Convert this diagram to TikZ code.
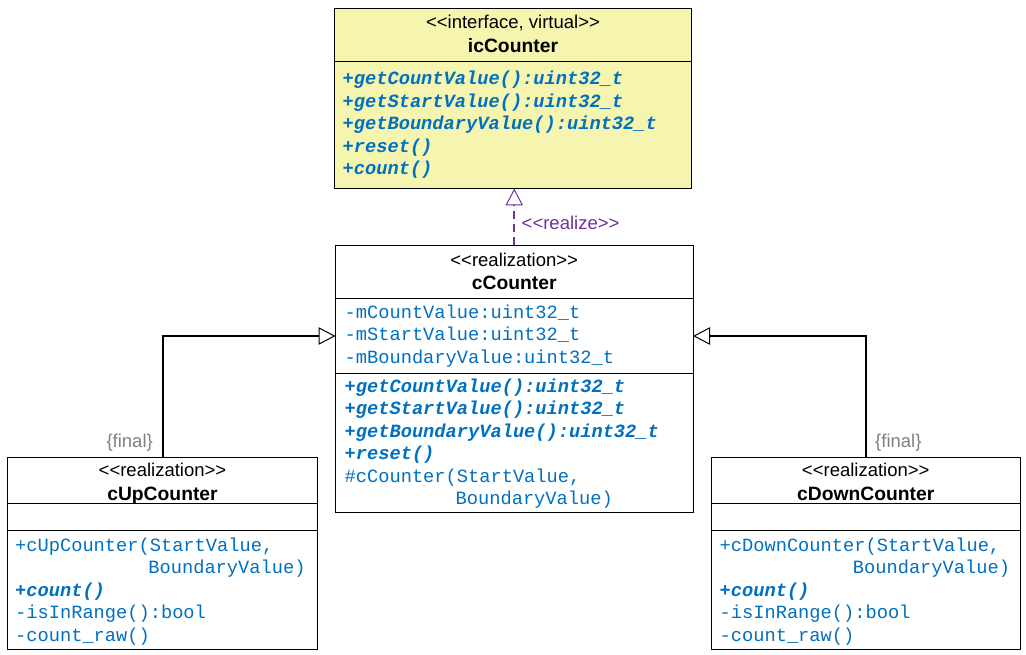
\documentclass[tikz,border=0pt]{standalone}
\usepackage{fontspec}
\setmainfont{Liberation Sans}
\setmonofont{Liberation Mono}
\usetikzlibrary{arrows.meta}
\definecolor{umlblue}{RGB}{0,112,192}
\definecolor{umlpurple}{RGB}{112,48,160}
\definecolor{umlyellow}{RGB}{245,245,176}
\definecolor{umlgray}{RGB}{128,128,128}
\newcommand{\lguil}{<\kern0pt<}
\newcommand{\rguil}{>\kern0pt>}
\tikzset{
  classbox/.style={draw=black, line width=1pt, inner sep=0pt, outer sep=0pt, anchor=north west},
  sepline/.style={draw=black, line width=1pt},
  stereo/.style={anchor=base, inner sep=0pt, font=\fontsize{18.5}{22.5}\selectfont},
  cname/.style={anchor=base, inner sep=0pt, font=\fontsize{19.3}{22.5}\selectfont\bfseries},
  attr/.style={anchor=base west, inner sep=0pt, text=umlblue, font=\fontsize{18.7}{22.5}\selectfont\ttfamily},
  absmeth/.style={anchor=base west, inner sep=0pt, text=umlblue, font=\fontsize{18.7}{22.5}\selectfont\ttfamily\bfseries\itshape},
  constraint/.style={inner sep=0pt, text=umlgray, font=\fontsize{18.5}{22.5}\selectfont},
  reallabel/.style={anchor=base west, inner sep=0pt, text=umlpurple, font=\fontsize{18.5}{22.5}\selectfont},
  inh/.style={draw=black, line width=2pt, -{Triangle[length=17pt,width=17.5pt,fill=white,line width=1pt]}},
  realize/.style={draw=umlpurple, line width=2pt, dash pattern=on 8pt off 5pt, -{Triangle[length=17pt,width=17.5pt,fill=white,line width=1pt]}}
}
\begin{document}
\begin{tikzpicture}[x=1pt,y=-1pt]
\useasboundingbox (0,0) rectangle (1026,655);
\fill[white] (0,0) rectangle (1026,655);

% ---------- icCounter ----------
\node[classbox, fill=umlyellow, minimum width=357pt, minimum height=180pt] (ic) at (334.5,8.5) {};
\draw[sepline] (ic.west |- 0,62) -- (ic.east |- 0,62);
\node[stereo] (ic-st) at (513,28.5) {\lguil interface, virtual\rguil};
\node[cname] (ic-nm) at (513,53) {icCounter};
\node[absmeth] (ic-m1) at (342.5,85) {+getCountValue():uint32\_t};
\node[absmeth] (ic-m2) at (342.5,107.5) {+getStartValue():uint32\_t};
\node[absmeth] (ic-m3) at (342.5,130) {+getBoundaryValue():uint32\_t};
\node[absmeth] (ic-m4) at (342.5,152.5) {+reset()};
\node[absmeth] (ic-m5) at (342.5,175) {+count()};

% ---------- cCounter ----------
\node[classbox, minimum width=357.5pt, minimum height=266.5pt] (cc) at (335.5,245.5) {};
\draw[sepline] (cc.west |- 0,298.5) -- (cc.east |- 0,298.5);
\draw[sepline] (cc.west |- 0,373.5) -- (cc.east |- 0,373.5);
\node[stereo] (cc-st) at (514.2,266.5) {\lguil realization\rguil};
\node[cname] (cc-nm) at (514.2,290) {cCounter};
\node[attr] (cc-a1) at (344.5,318) {-mCountValue:uint32\_t};
\node[attr] (cc-a2) at (344.5,340.5) {-mStartValue:uint32\_t};
\node[attr] (cc-a3) at (344.5,363) {-mBoundaryValue:uint32\_t};
\node[absmeth] (cc-m1) at (344.5,392) {+getCountValue():uint32\_t};
\node[absmeth] (cc-m2) at (344.5,414.5) {+getStartValue():uint32\_t};
\node[absmeth] (cc-m3) at (344.5,437) {+getBoundaryValue():uint32\_t};
\node[absmeth] (cc-m4) at (344.5,459.5) {+reset()};
\node[attr] (cc-m5) at (344.5,482) {\#cCounter(StartValue,};
\node[attr] (cc-m5b) at (455.5,504.5) {BoundaryValue)};

% ---------- cUpCounter ----------
\node[classbox, minimum width=310pt, minimum height=192pt] (cup) at (7.5,457.5) {};
\draw[sepline] (cup.west |- 0,503.5) -- (cup.east |- 0,503.5);
\draw[sepline] (cup.west |- 0,530.5) -- (cup.east |- 0,530.5);
\node[stereo] (cup-st) at (162.5,476.5) {\lguil realization\rguil};
\node[cname] (cup-nm) at (162.5,500) {cUpCounter};
\node[attr] (cup-m1) at (15,551) {+cUpCounter(StartValue,};
\node[attr] (cup-m1b) at (148.2,573.5) {BoundaryValue)};
\node[absmeth] (cup-m2) at (15,596) {+count()};
\node[attr] (cup-m3) at (15,618.5) {-isInRange():bool};
\node[attr] (cup-m4) at (15,641) {-count\_raw()};

% ---------- cDownCounter ----------
\node[classbox, minimum width=309.5pt, minimum height=192pt] (cdown) at (711,457.5) {};
\draw[sepline] (cdown.west |- 0,503.5) -- (cdown.east |- 0,503.5);
\draw[sepline] (cdown.west |- 0,530.5) -- (cdown.east |- 0,530.5);
\node[stereo] (cdown-st) at (865.75,476.5) {\lguil realization\rguil};
\node[cname] (cdown-nm) at (865.75,500) {cDownCounter};
\node[attr] (cdown-m1) at (719.5,551) {+cDownCounter(StartValue,};
\node[attr] (cdown-m1b) at (852.7,573.5) {BoundaryValue)};
\node[absmeth] (cdown-m2) at (719.5,596) {+count()};
\node[attr] (cdown-m3) at (719.5,618.5) {-isInRange():bool};
\node[attr] (cdown-m4) at (719.5,641) {-count\_raw()};

% ---------- connectors ----------
\draw[realize] (cc.north) -- (cc.north |- ic.south);
\node[reallabel] (rl) at (521.5,229.5) {\lguil realize\rguil};

\draw[inh] (cup.north) |- (cc.west |- 0,336);
\draw[inh] (cdown.north) |- (cc.east |- 0,336);
\node[constraint, anchor=base east] (fin1) at (153,447) {\{final\}};
\node[constraint, anchor=base west] (fin2) at (875,447) {\{final\}};
\end{tikzpicture}
\end{document}
